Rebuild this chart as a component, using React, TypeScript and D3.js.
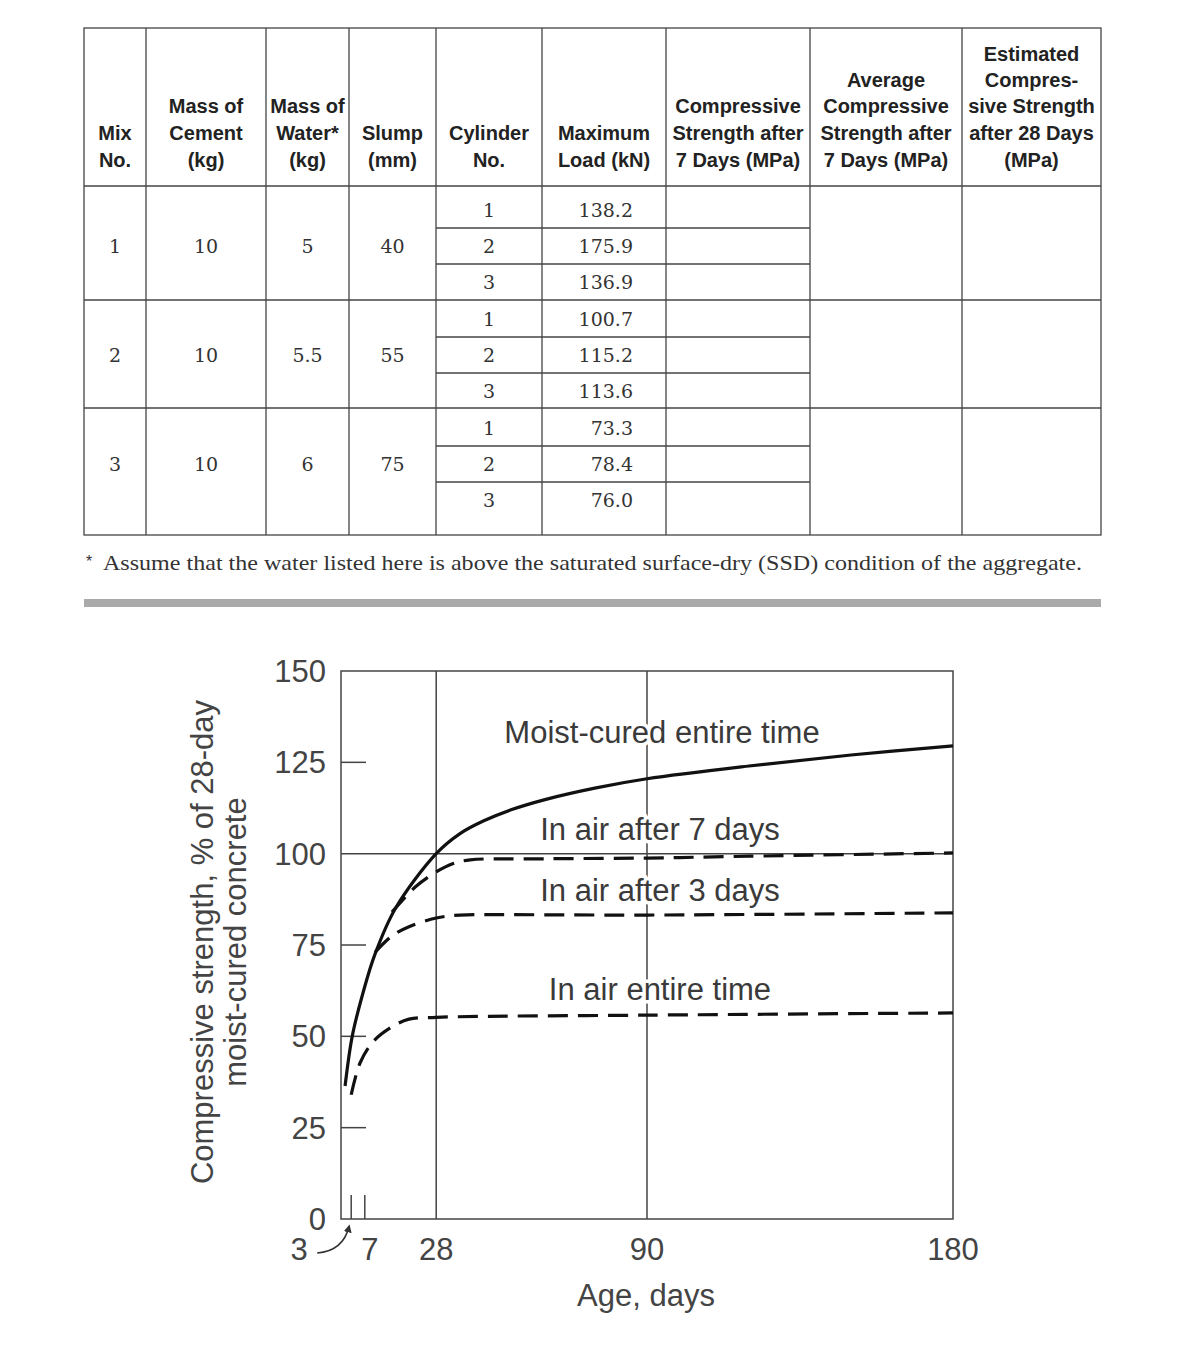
import React from 'react';
import * as d3 from 'd3';

// table data
const headers = [
  ['Mix', 'No.'],
  ['Mass of', 'Cement', '(kg)'],
  ['Mass of', 'Water*', '(kg)'],
  ['Slump', '(mm)'],
  ['Cylinder', 'No.'],
  ['Maximum', 'Load (kN)'],
  ['Compressive', 'Strength after', '7 Days (MPa)'],
  ['Average', 'Compressive', 'Strength after', '7 Days (MPa)'],
  ['Estimated', 'Compres-', 'sive Strength', 'after 28 Days', '(MPa)'],
];
const mixNo = ['1', '2', '3'];
const cementKg = ['10', '10', '10'];
const waterKg = ['5', '5.5', '6'];
const slumpMm = ['40', '55', '75'];
const cylinderNo = ['1', '2', '3'];
const maxLoadKN = [
  [138.2, 175.9, 136.9],
  [100.7, 115.2, 113.6],
  [73.3, 78.4, 76.0],
];
const footnote = 'Assume that the water listed here is above the saturated surface-dry (SSD) condition of the aggregate.';

// chart data
const moistDays = [1.2, 3.3, 6.5, 10, 16, 28, 35, 42, 50, 60, 75, 90, 120, 150, 180];
const moistPct = [36.4, 50, 62, 72.5, 85, 100, 105.5, 109, 112, 114.8, 118, 120.5, 124, 127, 129.5];
const air7Days = [15, 22, 28, 33, 38, 60, 90, 120, 180];
const air7Pct = [84, 91, 95, 97.3, 98.3, 98.6, 98.8, 99.3, 100.2];
const air3Days = [10, 15, 20, 28, 35, 45, 90, 180];
const air3Pct = [73, 77.5, 80, 82.4, 83.2, 83.3, 83.2, 83.8];
const airAllDays = [3, 5.6, 9.4, 15, 20, 28, 90, 180];
const airAllPct = [34, 42.7, 48.5, 52.6, 54.7, 55.2, 55.8, 56.4];
const yTicks = [0, 25, 50, 75, 100, 125, 150];
const xTickLabels = [3, 7, 28, 90, 180];
const curveLabels = ['Moist-cured entire time', 'In air after 7 days', 'In air after 3 days', 'In air entire time'];

// table layout
const colX = [84, 146, 266, 349, 436, 542, 666, 810, 962, 1101];
const tTop = 28;
const groupY = [186, 300, 408, 535];
const subLines = [[228, 264], [337, 373], [446, 482]];
const subMid = [[210, 246, 282], [319, 355, 391], [428, 464, 500]];
const headLineY = [54, 80, 106, 133, 160];

const App = () => {
  const x = d3.scaleLinear().domain([0, 180]).range([341, 953]);
  const y = d3.scaleLinear().domain([0, 150]).range([1219, 671]);
  const line = d3
    .line<[number, number]>()
    .x((d) => x(d[0]))
    .y((d) => y(d[1]))
    .curve(d3.curveCatmullRom.alpha(0.5));
  const zip = (a: number[], b: number[]) => a.map((v, i) => [v, b[i]] as [number, number]);

  const lineCol = '#444';
  const sans = '"Liberation Sans", Arial, sans-serif';
  const serif = '"DejaVu Serif", serif';
  const mid = (i: number) => (colX[i] + colX[i + 1]) / 2;

  const labelY = [743, 840, 901, 1000];
  const labelX = [662, 660, 660, 660];

  return (
    <svg width={1200} height={1358} style={{ position: 'absolute', left: 0, top: 0 }}>
      <rect width={1200} height={1358} fill="#fff" />
      <defs>
        <marker id="ah" viewBox="0 0 10 10" refX="8" refY="5" markerWidth="5" markerHeight="5" orient="auto">
          <path d="M0,0 L10,5 L0,10 z" fill="#333" />
        </marker>
      </defs>

      {/* table */}
      <g stroke={lineCol} strokeWidth={1.3} fill="none">
        <rect x={colX[0]} y={tTop} width={colX[9] - colX[0]} height={groupY[3] - tTop} />
        {colX.slice(1, -1).map((cx) => (
          <line key={cx} x1={cx} x2={cx} y1={tTop} y2={groupY[3]} />
        ))}
        {groupY.slice(0, 3).map((gy) => (
          <line key={gy} x1={colX[0]} x2={colX[9]} y1={gy} y2={gy} />
        ))}
        {subLines.flat().map((sy) => (
          <line key={sy} x1={colX[4]} x2={colX[7]} y1={sy} y2={sy} />
        ))}
      </g>
      <g fontFamily={sans} fontWeight="bold" fontSize={20} fill="#222" textAnchor="middle">
        {headers.map((lines, i) =>
          lines.map((t, j) => (
            <text key={i + '-' + j} x={mid(i)} y={headLineY[5 - lines.length + j] + 7}>
              {t}
            </text>
          ))
        )}
      </g>
      <g fontFamily={serif} fontSize={19} fill="#333" textAnchor="middle">
        {mixNo.map((m, g) => (
          <g key={m}>
            <text x={mid(0)} y={subMid[g][1] + 7}>{m}</text>
            <text x={mid(1)} y={subMid[g][1] + 7}>{cementKg[g]}</text>
            <text x={mid(2)} y={subMid[g][1] + 7}>{waterKg[g]}</text>
            <text x={mid(3)} y={subMid[g][1] + 7}>{slumpMm[g]}</text>
            {cylinderNo.map((c, k) => (
              <text key={c} x={mid(4)} y={subMid[g][k] + 7}>{c}</text>
            ))}
            {maxLoadKN[g].map((v, k) => (
              <text key={k} x={633} textAnchor="end" y={subMid[g][k] + 7}>
                {v.toFixed(1)}
              </text>
            ))}
          </g>
        ))}
      </g>
      <text x={86} y={567} fontFamily={sans} fontSize={16} fill="#333">*</text>
      <text
        x={103}
        y={570}
        fontFamily='"Liberation Serif", serif'
        fontSize={22}
        fill="#333"
        textLength={979}
        lengthAdjust="spacingAndGlyphs"
      >
        {footnote}
      </text>
      <rect x={84} y={599} width={1017} height={8} fill="#aaa" />

      {/* chart */}
      <g stroke="#444" strokeWidth={1.5} fill="none">
        <rect x={x(0)} y={y(150)} width={x(180) - x(0)} height={y(0) - y(150)} />
        <line x1={x(0)} x2={x(180)} y1={y(100)} y2={y(100)} />
        <line x1={x(28)} x2={x(28)} y1={y(0)} y2={y(150)} />
        <line x1={x(90)} x2={x(90)} y1={y(0)} y2={y(150)} />
        {[25, 50, 75, 125].map((v) => (
          <line key={v} x1={x(0)} x2={x(0) + 25} y1={y(v)} y2={y(v)} />
        ))}
        {[3, 7].map((d) => (
          <line key={d} x1={x(d)} x2={x(d)} y1={y(0)} y2={y(0) - 24} />
        ))}
      </g>

      <g fill="none" stroke="#111" strokeWidth={3.2}>
        <path d={line(zip(moistDays, moistPct)) || ''} />
        <path d={line(zip(air7Days, air7Pct)) || ''} strokeDasharray="20 10" />
        <path d={line(zip(air3Days, air3Pct)) || ''} strokeDasharray="20 10" />
        <path d={line(zip(airAllDays, airAllPct)) || ''} strokeDasharray="20 10" />
      </g>

      <g fontFamily={sans} fontSize={31} fill="#3a3a3a" textAnchor="middle">
        {curveLabels.map((t, i) => (
          <text
            key={t}
            x={labelX[i]}
            y={labelY[i]}
            stroke="#fff"
            strokeWidth={7}
            paintOrder="stroke"
          >
            {t}
          </text>
        ))}
      </g>

      <g fontFamily={sans} fontSize={31} fill="#444">
        {yTicks.map((v) => (
          <text key={v} x={326} y={y(v) + 11} textAnchor="end">
            {v}
          </text>
        ))}
        {xTickLabels.map((d) => (
          <text
            key={d}
            x={d === 3 ? x(d) - 52 : d === 7 ? x(d) + 5 : x(d)}
            y={1260}
            textAnchor="middle"
          >
            {d}
          </text>
        ))}
        <text x={646} y={1306} textAnchor="middle">Age, days</text>
        <text transform="translate(213,942) rotate(-90)" textAnchor="middle">
          Compressive strength, % of 28-day
        </text>
        <text transform="translate(246,942) rotate(-90)" textAnchor="middle">
          moist-cured concrete
        </text>
      </g>
      <path
        d={`M${x(3) - 34},1253 Q${x(3) - 8},1251 ${x(3) - 2},1226`}
        fill="none"
        stroke="#333"
        strokeWidth={1.6}
        markerEnd="url(#ah)"
      />
    </svg>
  );
};

export default App;
